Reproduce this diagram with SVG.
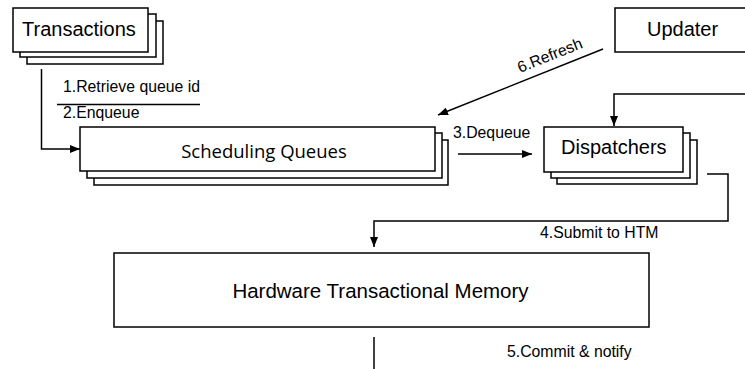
<svg xmlns="http://www.w3.org/2000/svg" width="745" height="369" viewBox="0 0 745 369">
<style>
.box{fill:#fff;stroke:#000;stroke-width:1.5}
.ln{fill:none;stroke:#000;stroke-width:1.5}
.t{font-family:"Liberation Sans",Arial,sans-serif;fill:#000}
.big{font-size:20px}
.sm{font-size:15.8px}
</style>
<defs>
<marker id="ah" viewBox="0 0 10 8" refX="10" refY="4" markerWidth="10" markerHeight="8" markerUnits="userSpaceOnUse" orient="auto">
<path d="M0,0 L10,4 L0,8 z" fill="#000"/>
</marker>
</defs>
<g id="transactions">
<rect class="box" x="27" y="21" width="136" height="43"/>
<rect class="box" x="20" y="14" width="136" height="43"/>
<rect class="box" x="13" y="8" width="135" height="44"/>
<text class="t big" x="22" y="36">Transactions</text>
</g>
<g id="updater">
<rect class="box" x="615" y="8" width="135" height="44"/>
<text class="t big" x="647" y="36">Updater</text>
</g>
<g id="scheduling-queues">
<rect class="box" x="94" y="140" width="354" height="45"/>
<rect class="box" x="87" y="133" width="355" height="45"/>
<rect class="box" x="80" y="127" width="355" height="44"/>
<text x="264" y="158" text-anchor="middle" style="font-family:'Open Sans','Noto Sans',sans-serif;font-size:18.5px">Scheduling Queues</text>
</g>
<g id="dispatchers">
<rect class="box" x="557" y="140" width="140" height="44"/>
<rect class="box" x="551" y="133" width="139" height="45"/>
<rect class="box" x="544" y="127" width="139" height="45"/>
<text class="t big" x="561" y="154">Dispatchers</text>
</g>
<g id="htm">
<rect class="box" x="114" y="253" width="535" height="74"/>
<text class="t" x="380.5" y="298" text-anchor="middle" style="font-size:20.5px">Hardware Transactional Memory</text>
</g>
<g id="connectors">
<polyline class="ln" points="41.5,69 41.5,149 80,149" marker-end="url(#ah)"/>
<line class="ln" x1="57" y1="104.5" x2="200" y2="104.5"/>
<text class="t sm" x="63" y="92">1.Retrieve queue id</text>
<text class="t sm" x="63" y="117.5">2.Enqueue</text>
<line class="ln" x1="603" y1="49" x2="438" y2="115" marker-end="url(#ah)"/>
<text class="t sm" transform="translate(520,73) rotate(-21.8)">6.Refresh</text>
<line class="ln" x1="458" y1="154" x2="532" y2="154" marker-end="url(#ah)"/>
<text class="t sm" x="453" y="138">3.Dequeue</text>
<polyline class="ln" points="745,94 614,94 614,126" marker-end="url(#ah)"/>
<polyline class="ln" points="707,174 728,174 728,221 374,221 374,247" marker-end="url(#ah)"/>
<text class="t sm" x="540" y="238">4.Submit to HTM</text>
<line class="ln" x1="374" y1="337" x2="374" y2="369"/>
<text class="t sm" x="507" y="357">5.Commit &amp; notify</text>
</g>
</svg>
